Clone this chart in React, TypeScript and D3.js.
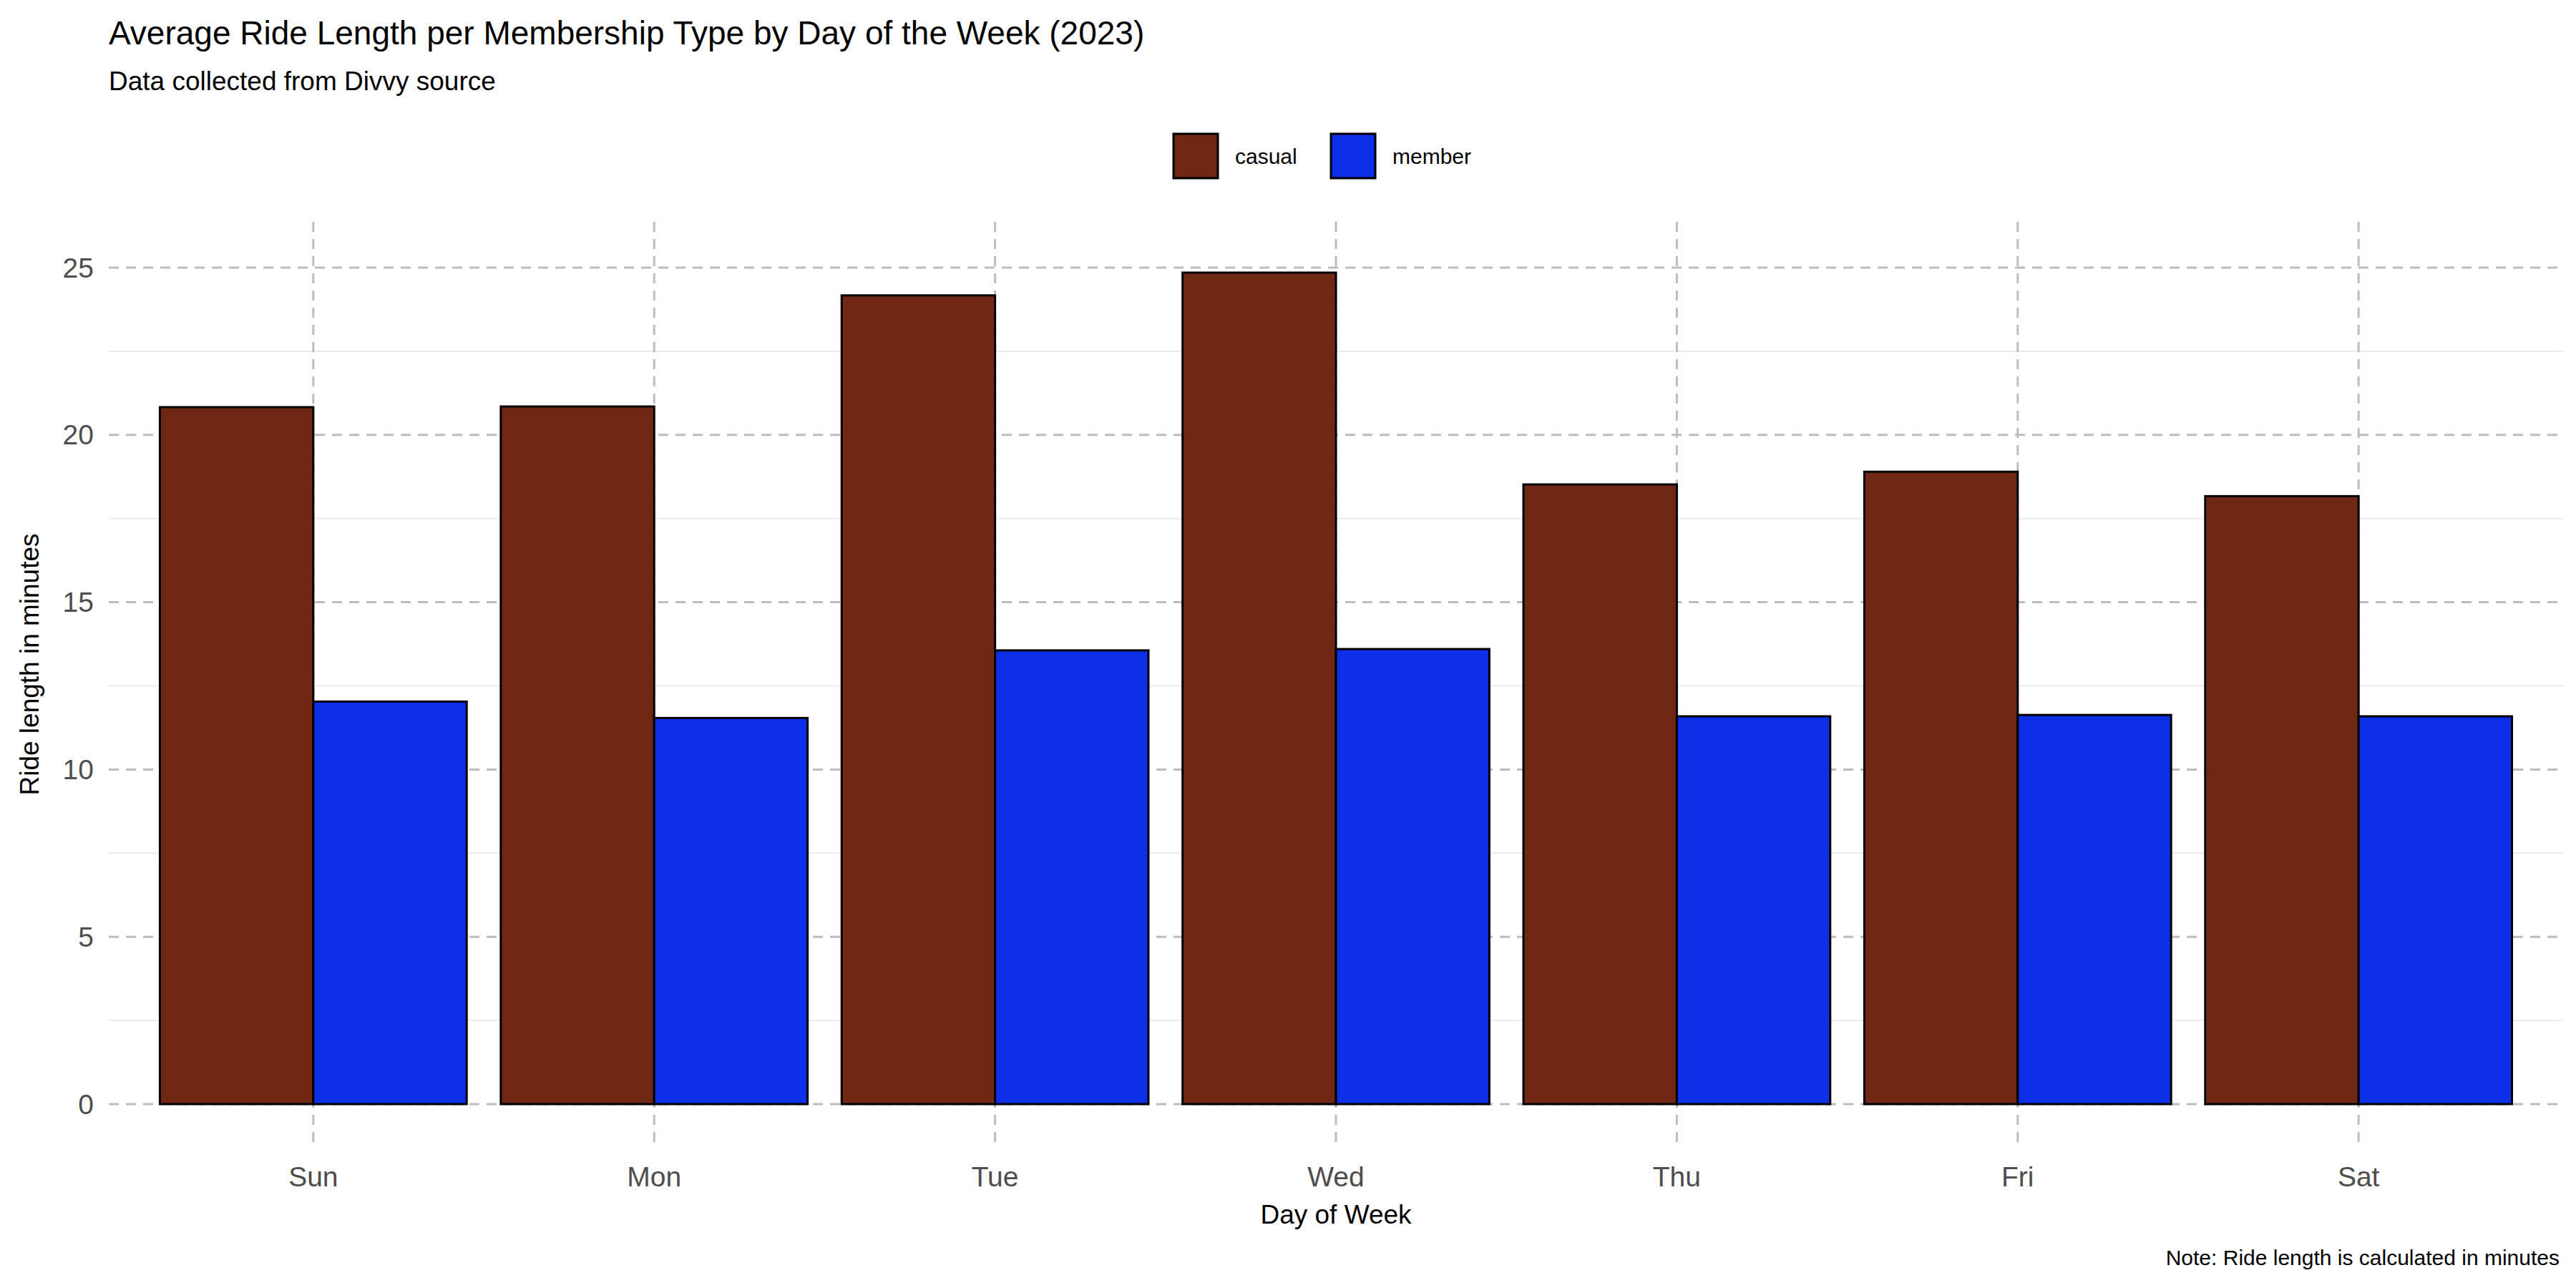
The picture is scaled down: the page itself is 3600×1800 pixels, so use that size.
import * as d3 from 'd3';

const days = ['Sun', 'Mon', 'Tue', 'Wed', 'Thu', 'Fri', 'Sat'];
const types = ['casual', 'member'];
const casual = [20.83, 20.85, 24.17, 24.85, 18.52, 18.9, 18.17];
const member = [12.03, 11.54, 13.56, 13.6, 11.59, 11.63, 11.59];
const colors = ['#6e2813', '#0d2fe6'];
const majorTicks = [0, 5, 10, 15, 20, 25];
const minorTicks = [2.5, 7.5, 12.5, 17.5, 22.5];

const W = 3600;
const H = 1800;
const left = 152;
const right = 3582;
const font = 'Arial, "Liberation Sans", sans-serif';

export default function App() {
    const x = d3.scaleBand().domain(days).range([left, right]).paddingInner(0.1).paddingOuter(0.15);
    const sub = d3.scaleBand().domain(types).range([0, x.bandwidth()]);
    const y = d3.scaleLinear().domain([0, 25]).range([1543, 374]);
    const series = [casual, member];

    return (
        <svg width={W} height={H} style={{ display: 'block', marginTop: -8, marginLeft: -8 }} fontFamily={font}>
            <rect width={W} height={H} fill="#fff" />
            {minorTicks.map((t) => (
                <line key={t} x1={left} x2={right} y1={y(t)} y2={y(t)} stroke="#ebebeb" strokeWidth={2} />
            ))}
            {majorTicks.map((t) => (
                <line key={t} x1={left} x2={right} y1={y(t)} y2={y(t)} stroke="#bdbdbd" strokeWidth={3} strokeDasharray="14 10" />
            ))}
            {days.map((d) => (
                <line key={d} x1={x(d)! + x.bandwidth() / 2} x2={x(d)! + x.bandwidth() / 2} y1={310} y2={1600}
                    stroke="#bdbdbd" strokeWidth={3} strokeDasharray="14 10" />
            ))}
            {days.map((d, i) =>
                types.map((t, j) => (
                    <rect key={d + t} x={x(d)! + sub(t)!} width={sub.bandwidth()} y={y(series[j][i])}
                        height={y(0) - y(series[j][i])} fill={colors[j]} stroke="#000" strokeWidth={3} />
                )),
            )}
            {majorTicks.map((t) => (
                <text key={t} x={131} y={y(t)} dy="0.35em" textAnchor="end" fontSize={39} fill="#4d4d4d">{t}</text>
            ))}
            {days.map((d) => (
                <text key={d} x={x(d)! + x.bandwidth() / 2} y={1658} textAnchor="middle" fontSize={39} fill="#4d4d4d">{d}</text>
            ))}
            <text x={(left + right) / 2} y={1710} textAnchor="middle" fontSize={37}>Day of Week</text>
            <text transform={`translate(54,${(y(0) + y(25)) / 2 - 30}) rotate(-90)`} textAnchor="middle" fontSize={37}>Ride length in minutes</text>
            <text x={152} y={62} fontSize={46}>Average Ride Length per Membership Type by Day of the Week (2023)</text>
            <text x={152} y={126} fontSize={37}>Data collected from Divvy source</text>
            {types.map((t, j) => {
                const lx = j === 0 ? 1640 : 1860;
                return (
                    <g key={t}>
                        <rect x={lx} y={187} width={62} height={62} fill={colors[j]} stroke="#000" strokeWidth={3} />
                        <text x={lx + 86} y={218} dy="0.35em" fontSize={30}>{t}</text>
                    </g>
                );
            })}
            <text x={3577} y={1768} textAnchor="end" fontSize={30}>Note: Ride length is calculated in minutes</text>
        </svg>
    );
}
